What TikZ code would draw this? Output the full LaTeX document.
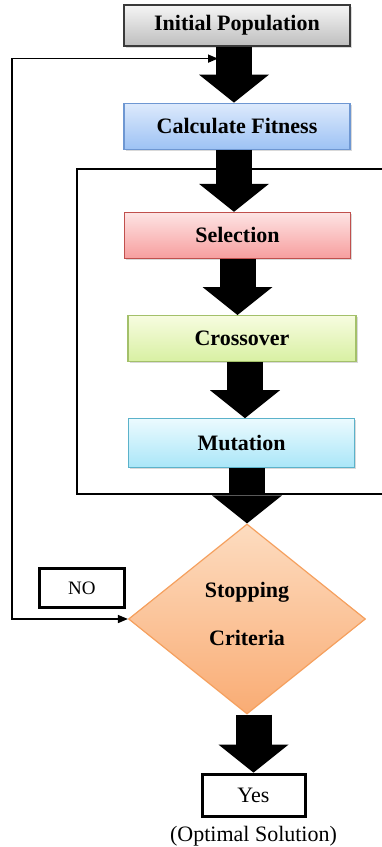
\documentclass[tikz,border=0pt]{standalone}
\usepackage{fontspec}
\setmainfont{Liberation Serif}
\usetikzlibrary{shapes.geometric,arrows.meta,positioning,shadows}

\definecolor{popTop}{HTML}{F5F5F5}
\definecolor{popBot}{HTML}{BEBEBE}
\definecolor{popLine}{HTML}{3A3A3A}
\definecolor{fitTop}{HTML}{DDEAFC}
\definecolor{fitBot}{HTML}{9DC2F4}
\definecolor{fitLine}{HTML}{6E97D2}
\definecolor{selTop}{HTML}{FDE4E4}
\definecolor{selBot}{HTML}{F79E9E}
\definecolor{selLine}{HTML}{C0504D}
\definecolor{croTop}{HTML}{F7FCE0}
\definecolor{croBot}{HTML}{D8F0A2}
\definecolor{croLine}{HTML}{A3C06A}
\definecolor{mutTop}{HTML}{EBFAFE}
\definecolor{mutBot}{HTML}{A9E6F8}
\definecolor{mutLine}{HTML}{5BB2CA}
\definecolor{decTop}{HTML}{FDDCC0}
\definecolor{decBot}{HTML}{F9AC74}
\definecolor{decLine}{HTML}{F5A05E}

\begin{document}
\begin{tikzpicture}[x=1pt, y=1pt, node distance=56pt, >={Triangle[length=10pt,width=8pt]}]
	%define block styles
	\tikzset{
		stage/.style={rectangle, minimum width=226pt, minimum height=46pt, text centered, line width=1.2pt, font=\fontsize{22}{26}\selectfont\bfseries, drop shadow={shadow xshift=1.5pt, shadow yshift=-1.5pt, opacity=0.3}},
		decision/.style={diamond, minimum width=237pt, minimum height=190pt, inner sep=2pt, align=center, line width=1.2pt, draw=decLine, top color=decTop, bottom color=decBot, font=\fontsize{22}{26}\selectfont\bfseries},
		answer/.style={rectangle, draw=black, line width=3pt, inner sep=2pt, font=\fontsize{22}{26}\selectfont},
		bigarrow/.style={line width=36pt, -{Triangle[length=28pt,width=70pt,line width=0pt]}},
		arrow/.style={line width=1.5pt},}
	\useasboundingbox (0,0) rectangle (382,-847);
	%define nodes
	\node[stage, top color=popTop, bottom color=popBot, draw=popLine, minimum height=41pt] (init) at (237,-25.5) {Initial Population};
	\node[stage, top color=fitTop, bottom color=fitBot, draw=fitLine, below=of init] (fitness) {Calculate Fitness};
	\node[stage, top color=selTop, bottom color=selBot, draw=selLine, below=62pt of fitness, xshift=0.5pt] (select) {Selection};
	\node[stage, top color=croTop, bottom color=croBot, draw=croLine, minimum width=228pt, below=56pt of select, xshift=4.5pt] (cross) {Crossover};
	\node[stage, top color=mutTop, bottom color=mutBot, draw=mutLine, minimum height=49pt, below=56pt of cross, xshift=-0.5pt] (mutate) {Mutation};
	\node[decision, below=55pt of mutate, xshift=5.5pt] (stop) {Stopping\\[22pt]Criteria\\[-16pt]};
	\node[answer, minimum width=103pt, minimum height=42pt, below=58pt of stop, xshift=6.5pt] (yes) {Yes};
	\node[below=6pt of yes, inner sep=2pt, font=\fontsize{22}{26}\selectfont] (optimal) {(Optimal Solution)};
	\node[answer, minimum width=85pt, minimum height=39pt, font=\fontsize{19}{23}\selectfont, above left=10pt and 2pt of stop.west] (no) {NO};
	%inner loop frame
	\coordinate (frameTL) at (77,-169);
	\coordinate (frameBL) at (77,-494);
	\coordinate (edge) at (382,0);
	\draw[arrow] (frameTL -| edge) -- (frameTL) -- (frameBL) -- (frameBL -| edge);
	%outer loop
	\coordinate (loopx) at (12,0);
	\coordinate (loopin) at ([xshift=-19pt,yshift=-12pt]init.south);
	\draw[arrow, <->] (loopin) -| (loopx |- stop.west) -- (stop.west);
	%draw arrows
	\draw[bigarrow] ([xshift=-3pt]init.south) -- ([xshift=-3pt]init.south |- fitness.north);
	\draw[bigarrow] ([xshift=-3pt]fitness.south) -- ([xshift=-3pt]fitness.south |- select.north);
	\draw[bigarrow] (select.south) -- (select.south |- cross.north);
	\draw[bigarrow] ([xshift=3pt]cross.south) -- ([xshift=3pt]cross.south |- mutate.north);
	\draw[bigarrow] (mutate.south -| stop.north) -- (stop.north);
	\draw[bigarrow] (yes.north |- stop.south) -- (yes.north);
\end{tikzpicture}
\end{document}
